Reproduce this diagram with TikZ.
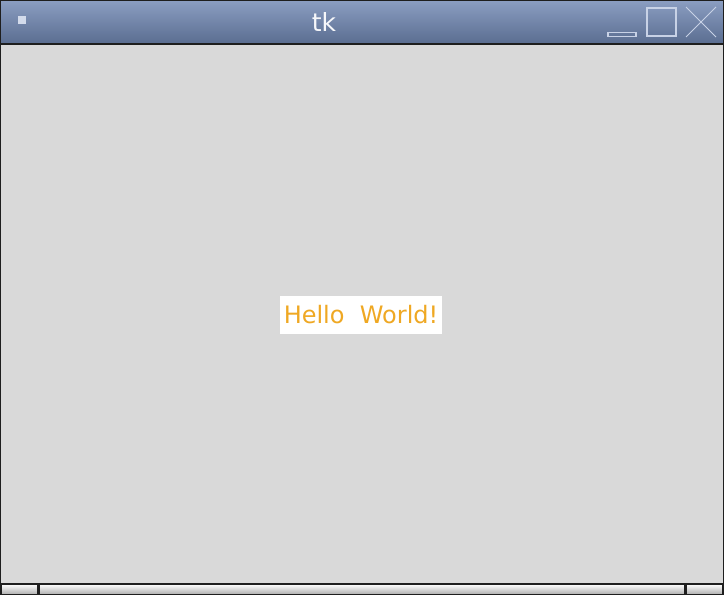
\documentclass[tikz,border=0pt]{standalone}
\usepackage{fontspec}
\setmainfont{DejaVu Sans}
\definecolor{bodygray}{HTML}{D9D9D9}
\definecolor{titletop}{HTML}{8B9EC2}
\definecolor{titlebot}{HTML}{5A6D90}
\definecolor{iconcol}{HTML}{C8D2E6}
\definecolor{hellocol}{HTML}{EFA823}
\definecolor{framecol}{HTML}{1E1E1E}
\tikzset{
  iconline/.style={draw=iconcol, line width=1.2pt},
  bottomseg/.style={draw=framecol, line width=1.2pt, top color=white!90!bodygray, bottom color=bodygray!80!black}
}
\begin{document}
\begin{tikzpicture}[x=1pt,y=-1pt]
\useasboundingbox (0,0) rectangle (724,595);
% body
\fill[bodygray] (0,0) rectangle (724,595);
% title bar
\shade[top color=titletop, bottom color=titlebot] (0,0) rectangle (724,44);
\draw[framecol, line width=1.5pt] (0,44) -- (724,44);
% window icon
\fill[iconcol!80!white] (18,16) rectangle (26,24);
% title
\node[text=white!92!titletop, font=\fontsize{25}{28}\selectfont] (title) at (324,22) {tk};
% minimize
\draw[iconline] (608,32.5) rectangle (636,36.5);
% maximize
\draw[iconline] (647,8) rectangle (676,36);
% close
\draw[iconline, line width=0.9pt] (686,7) -- (716,37) (716,7) -- (686,37);
% label
\node[fill=white, text=hellocol, inner sep=0pt, minimum width=162, minimum height=38,
  font=\fontsize{24}{27}\selectfont] (hello) at (361,315) {Hello\ \ World!};
% bottom bar
\draw[bottomseg] (1,584.5) rectangle (38,594.5);
\draw[bottomseg] (39,584.5) rectangle (685,594.5);
\draw[bottomseg] (686,584.5) rectangle (723,594.5);
% frame
\draw[framecol, line width=2pt] (0,0) rectangle (724,595);
\draw[framecol, line width=1.2pt] (0,583.5) -- (724,583.5);
\end{tikzpicture}
\end{document}
